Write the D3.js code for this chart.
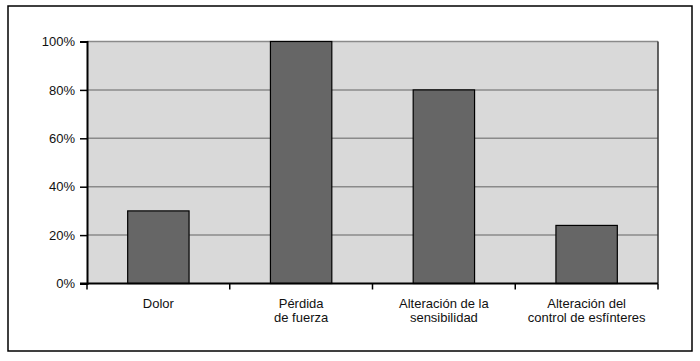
<!DOCTYPE html>
<html>
<head>
<meta charset="utf-8">
<script src="https://d3js.org/d3.v7.min.js"></script>
<style>
  body { margin: 0; background: #fff; }
  text { font-family: "Liberation Sans", Arial, sans-serif; font-size: 13px; fill: #111; }
</style>
</head>
<body>
<svg width="700" height="361"></svg>
<script>
// chart data
const categories = [
  ['Dolor'],
  ['Pérdida', 'de fuerza'],
  ['Alteración de la', 'sensibilidad'],
  ['Alteración del', 'control de esfínteres']
];
const values = [30, 100, 80, 24];
const yTicks = [0, 20, 40, 60, 80, 100];

const svg = d3.select('svg');
const m = { left: 87, right: 658, top: 41.5, bottom: 283.5 };

// outer frame
svg.append('rect')
  .attr('x', 8).attr('y', 6)
  .attr('width', 684).attr('height', 345)
  .attr('fill', 'none').attr('stroke', '#000').attr('stroke-width', 1.5);

const x = d3.scaleBand()
  .domain(d3.range(categories.length))
  .range([m.left, m.right])
  .paddingInner(0.57).paddingOuter(0.285);
const xb = d3.scaleLinear().domain([0, categories.length]).range([m.left, m.right]);
const y = d3.scaleLinear().domain([0, 100]).range([m.bottom, m.top]);

// plot area
svg.append('rect')
  .attr('x', m.left).attr('y', m.top)
  .attr('width', m.right - m.left).attr('height', m.bottom - m.top)
  .attr('fill', '#d9d9d9');

// gridlines
svg.append('g').selectAll('line')
  .data(yTicks.filter(d => d > 0))
  .join('line')
  .attr('x1', m.left).attr('x2', m.right)
  .attr('y1', d => y(d)).attr('y2', d => y(d))
  .attr('stroke', '#8a8a8a').attr('stroke-width', 1.5);

// right edge of plot
svg.append('line')
  .attr('x1', m.right).attr('x2', m.right)
  .attr('y1', m.top).attr('y2', m.bottom)
  .attr('stroke', '#333').attr('stroke-width', 1.5);

// bars
svg.append('g').selectAll('rect')
  .data(values)
  .join('rect')
  .attr('x', (d, i) => x(i))
  .attr('y', d => y(d))
  .attr('width', x.bandwidth())
  .attr('height', d => y(0) - y(d))
  .attr('fill', '#666')
  .attr('stroke', '#000').attr('stroke-width', 1.2);

// y axis
const yAxis = d3.axisLeft(y).tickValues(yTicks).tickFormat(d => d + '%').tickSize(7).tickPadding(5);
const gy = svg.append('g').attr('transform', `translate(${m.left},0)`).call(yAxis);
gy.select('.domain').attr('stroke', '#000').attr('stroke-width', 2);
gy.selectAll('.tick line').attr('stroke', '#000').attr('stroke-width', 1.5);
gy.selectAll('text').style('font-size', '13px').style('font-family', '"Liberation Sans", Arial, sans-serif').attr('fill', '#111');

// x axis with ticks at category boundaries
const gx = svg.append('g').attr('transform', `translate(0,${m.bottom})`);
gx.append('line')
  .attr('x1', m.left - 7).attr('x2', m.right)
  .attr('stroke', '#000').attr('stroke-width', 2);
gx.selectAll('.bt')
  .data(d3.range(categories.length + 1))
  .join('line')
  .attr('x1', d => xb(d)).attr('x2', d => xb(d))
  .attr('y1', 0).attr('y2', 6)
  .attr('stroke', '#000').attr('stroke-width', 1.5);

// category labels
const lbl = gx.selectAll('.lbl')
  .data(categories)
  .join('text')
  .attr('text-anchor', 'middle')
  .attr('transform', (d, i) => `translate(${x(i) + x.bandwidth() / 2},${24})`);
lbl.selectAll('tspan')
  .data(d => d)
  .join('tspan')
  .attr('x', 0)
  .attr('dy', (d, j) => j === 0 ? 0 : 14)
  .text(d => d);
</script>
</body>
</html>
